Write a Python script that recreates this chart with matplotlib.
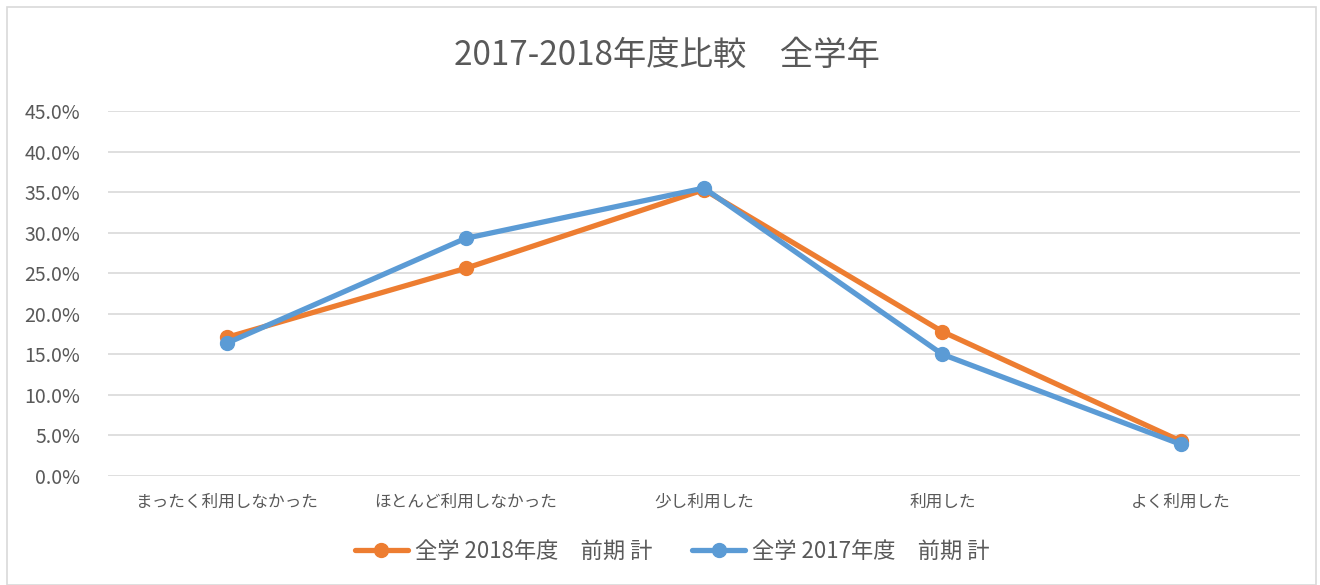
import matplotlib
matplotlib.use('Agg')
from matplotlib import pyplot as plt
from matplotlib.patches import Rectangle
from matplotlib.ticker import PercentFormatter

plt.rcParams['font.family'] = ['Noto Sans CJK JP', 'DejaVu Sans']

categories = ['まったく利用しなかった', 'ほとんど利用しなかった', '少し利用した', '利用した', 'よく利用した']
s2018 = [17.1, 25.6, 35.3, 17.8, 4.3]
s2017 = [16.4, 29.3, 35.5, 15.0, 3.9]
label2018 = '全学 2018年度\u3000前期 計'
label2017 = '全学 2017年度\u3000前期 計'

text_col = '#595959'
grid_col = '#D9D9D9'

fig = plt.figure(figsize=(13.2, 5.85), dpi=100)
fig.patches.append(Rectangle((7/1320, 0), 1309/1320, 1 - 7/585, transform=fig.transFigure,
                             fill=False, edgecolor='#D9D9D9', linewidth=1.2))
ax = fig.add_axes([108/1320, 109/585, 1192/1320, 365/585])

x = list(range(len(categories)))
ax.plot(x, s2018, color='#ED7D31', linewidth=3.8, marker='o', markersize=10,
        label=label2018, solid_capstyle='round', zorder=3)
ax.plot(x, s2017, color='#5B9BD5', linewidth=3.8, marker='o', markersize=10,
        label=label2017, solid_capstyle='round', zorder=4)

ax.set_xlim(-0.5, len(categories) - 0.5)
ax.set_ylim(0, 45)
ax.set_yticks([i * 5 for i in range(10)])
ax.yaxis.set_major_formatter(PercentFormatter(decimals=1))
ax.set_xticks(x)
ax.set_xticklabels(categories)
ax.tick_params(axis='both', length=0, colors=text_col)
ax.tick_params(axis='y', labelsize=14, pad=20)
ax.tick_params(axis='x', labelsize=12, pad=13)
ax.grid(axis='y', color=grid_col, linewidth=1.2)
ax.set_axisbelow(True)
for sp in ax.spines.values():
    sp.set_visible(False)

fig.text(667/1320, 1 - 55/585, '2017-2018年度比較\u3000全学年', ha='center', va='center',
         fontsize=24, color=text_col)

fig.legend(loc='center', bbox_to_anchor=(672/1320, 1 - 551/585), ncol=2, frameon=False,
           fontsize=16, labelcolor=text_col, handlelength=2.4, columnspacing=1.8,
           handletextpad=0.3)

fig.savefig('out.png', dpi=100)
